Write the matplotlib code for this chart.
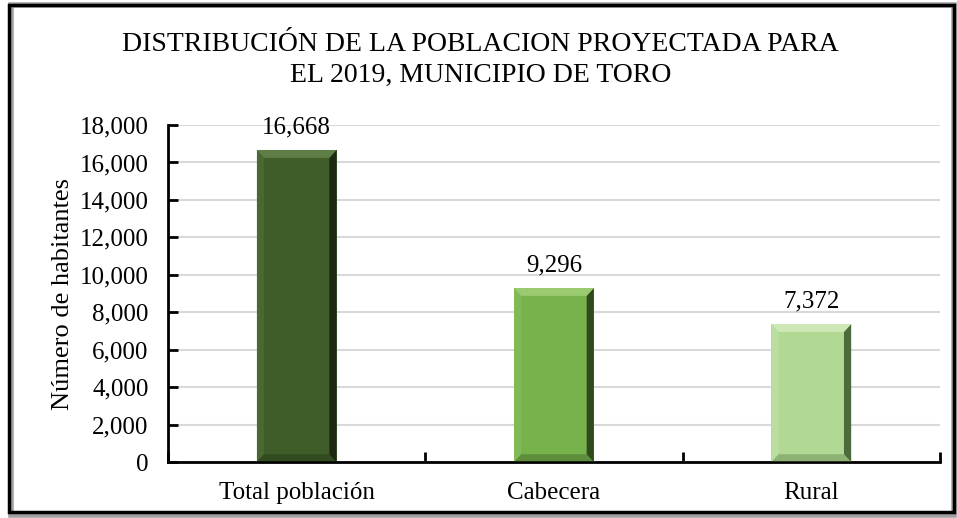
import numpy as np
import matplotlib.pyplot as plt
from matplotlib.patches import Polygon, Rectangle

categorias = ['Total población', 'Cabecera', 'Rural']
habitantes = [16668, 9296, 7372]
colores = ['#3e5d29', '#78b24c', '#b1d993']
bordes = ['#1c2a12', '#2f4a1c', '#4c6a3a']
claros = ['#5e7e48', '#9acb70', '#cde8b6']
y_ticks = np.arange(0, 18001, 2000)

plt.rcParams['font.family'] = ['Liberation Serif', 'DejaVu Serif']

fig = plt.figure(figsize=(9.57, 5.18), dpi=100)
ax = fig.add_axes([0.1755, 0.108, 0.8067, 0.6506])

x = np.arange(len(categorias))
ancho = 0.31
barras = ax.bar(x, habitantes, width=ancho, color=colores, zorder=2)

# bisel simple para imitar el estilo de Excel
bx = 0.028
by = 420
for b, c_osc, c_cla in zip(barras, bordes, claros):
    x0, y0 = b.get_x(), b.get_y()
    x1, y1 = x0 + b.get_width(), y0 + b.get_height()
    ax.add_patch(Polygon([(x1 - bx, y0 + by), (x1, y0), (x1, y1), (x1 - bx, y1 - by)],
                         closed=True, color=c_osc, zorder=3, lw=0))
    ax.add_patch(Polygon([(x0, y1), (x1, y1), (x1 - bx, y1 - by), (x0 + bx, y1 - by)],
                         closed=True, color=c_cla, zorder=3, lw=0))
    ax.add_patch(Polygon([(x0, y0), (x0 + bx, y0 + by), (x0 + bx, y1 - by), (x0, y1)],
                         closed=True, color=c_cla, alpha=0.35, zorder=3, lw=0))
    ax.add_patch(Polygon([(x0, y0), (x1, y0), (x1 - bx, y0 + by), (x0 + bx, y0 + by)],
                         closed=True, color=c_osc, alpha=0.35, zorder=3, lw=0))

for xi, v in zip(x, habitantes):
    ax.annotate(f'{v:,}', (xi, v), xytext=(0, 8), textcoords='offset points',
                ha='center', va='bottom', fontsize=18)

ax.set_xlim(-0.5, 2.5)
ax.set_ylim(0, 18000)
ax.set_yticks(y_ticks)
ax.set_yticklabels([f'{t:,}' for t in y_ticks], fontsize=18)
ax.set_xticks([-0.5, 0.5, 1.5, 2.5])
ax.set_xticklabels([])
ax.set_xticks(x, minor=True)
ax.set_xticklabels(categorias, minor=True, fontsize=18)
ax.tick_params(axis='x', which='minor', length=0, pad=14)
ax.tick_params(axis='x', which='major', direction='in', length=7, width=2)
ax.tick_params(axis='y', direction='in', length=7, width=2, pad=14)
ax.grid(axis='y', color='#d9d9d9', lw=1.5, zorder=0)
for s in ['top', 'right']:
    ax.spines[s].set_visible(False)
ax.spines['left'].set_linewidth(2)
ax.spines['bottom'].set_linewidth(2)
ax.set_ylabel('Número de habitantes', fontsize=19, labelpad=4)

fig.text(0.502, 0.884, 'DISTRIBUCIÓN DE LA POBLACION PROYECTADA PARA\nEL 2019, MUNICIPIO DE TORO',
         ha='center', va='center', fontsize=20, linespacing=1.3)

# marco exterior con sombra
fig.patches.append(Rectangle((0.012, 0.005), 0.985, 0.985, transform=fig.transFigure,
                             fill=False, ec='#a0a0a0', lw=4, zorder=0))
fig.patches.append(Rectangle((0.009, 0.012), 0.988, 0.978, transform=fig.transFigure,
                             fill=False, ec='black', lw=2.5, zorder=1))

fig.savefig('out.png', dpi=100)
